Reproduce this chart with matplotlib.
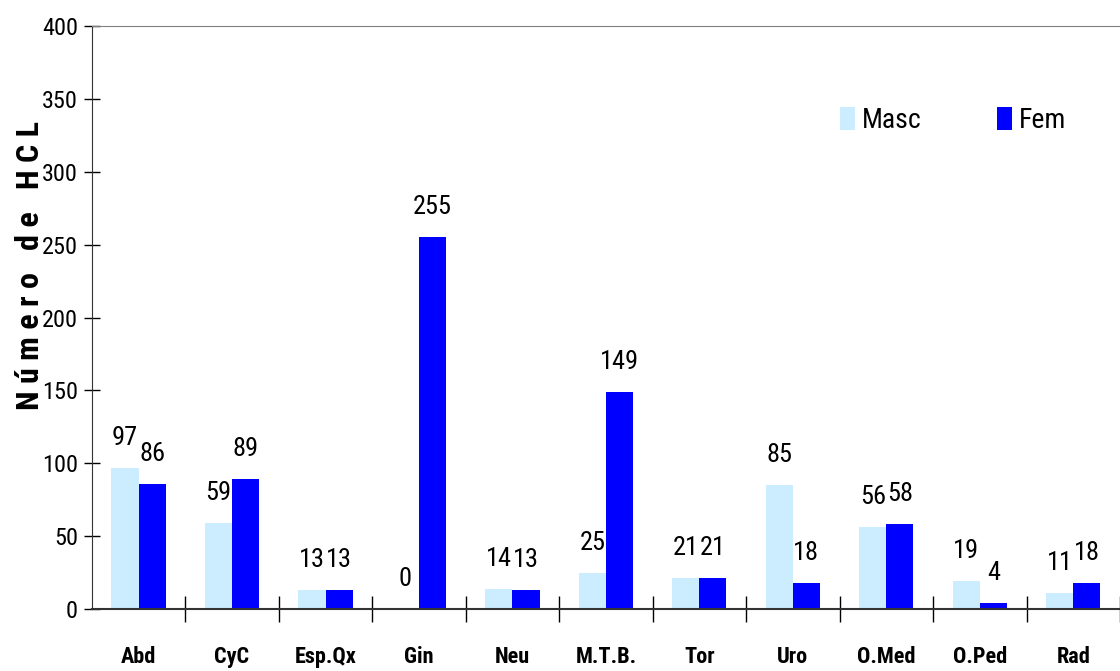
import numpy as np
import matplotlib
matplotlib.use("Agg")
import matplotlib.pyplot as plt
from matplotlib import font_manager

categories = ["Abd", "CyC", "Esp.Qx", "Gin", "Neu", "M.T.B.", "Tor", "Uro", "O.Med", "O.Ped", "Rad"]
masc = [97, 59, 13, 0, 14, 25, 21, 85, 56, 19, 11]
fem = [86, 89, 13, 255, 13, 149, 21, 18, 58, 4, 18]
yticks = [0, 50, 100, 150, 200, 250, 300, 350, 400]

# narrow font, like Arial Narrow in the original
names = {f.name for f in font_manager.fontManager.ttflist}
fam = "Liberation Sans"
for cand in ["Liberation Sans Narrow", "Roboto Condensed", "Archivo Narrow", "PT Sans Narrow"]:
    if cand in names:
        fam = cand
        break
plt.rcParams["font.family"] = [fam, "DejaVu Sans"]

fig = plt.figure(figsize=(11.2, 6.71), dpi=100)
ax = fig.add_axes([0.082, 0.0924, 0.918, 0.8686])

x = np.arange(len(categories))
w = 0.29
b1 = ax.bar(x - w / 2, masc, w, color="#CCECFF", label="Masc")
b2 = ax.bar(x + w / 2, fem, w, color="#0000FF", label="Fem")

for bars, vals in [(b1, masc), (b2, fem)]:
    for rect, v in zip(bars, vals):
        ax.annotate(str(v), (rect.get_x() + rect.get_width() / 2, v),
                    xytext=(0, 13), textcoords="offset points", ha="center", va="bottom", fontsize=19)

ax.set_xlim(-0.5, len(categories) - 0.5)
ax.set_ylim(0, 400)
ax.set_yticks(yticks)
ax.tick_params(axis="y", direction="inout", length=12, width=1, labelsize=17.5, pad=4)

ax.set_xticks(x)
ax.set_xticklabels(categories, fontsize=16, fontweight="bold")
ax.tick_params(axis="x", which="major", length=0, pad=27)
ax.set_xticks(np.arange(len(categories)) + 0.5, minor=True)
ax.tick_params(axis="x", which="minor", direction="inout", length=19, width=1)

ax.spines["right"].set_visible(False)
ax.spines["top"].set_color("#808080")
ax.spines["left"].set_color("#333333")
ax.spines["bottom"].set_color("#333333")
ax.spines["bottom"].set_linewidth(1.5)

ax.legend(loc="upper left", bbox_to_anchor=(0.728, 0.862), ncol=2, frameon=False,
          fontsize=20, handlelength=0.54, handleheight=0.9, handletextpad=0.25,
          columnspacing=2.7, borderpad=0, borderaxespad=0)

fig.text(0.027, 0.604, "N ú m e r o   d e   H C L", rotation=90, ha="center", va="center",
         fontsize=23, fontweight="bold")

fig.savefig("out.png", dpi=100)
